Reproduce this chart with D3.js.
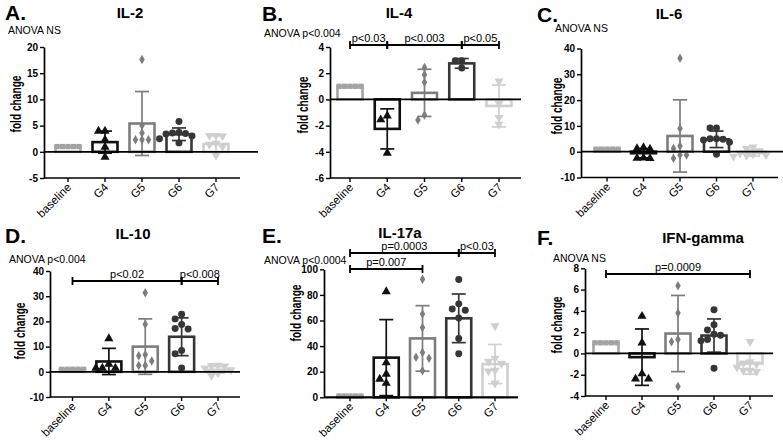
<!DOCTYPE html>
<html><head><meta charset="utf-8">
<script src="https://cdn.jsdelivr.net/npm/d3@7"></script>
<style>
body{margin:0;background:#fff}
svg{display:block}
text{font-family:"Liberation Sans",Arial,Helvetica,sans-serif;fill:#000}
</style>
</head><body>
<svg id="c" width="783" height="444"></svg>
<script>
// ---------------- DATA ----------------
const groups = ["baseline", "G4", "G5", "G6", "G7"];

// IL-2
const il2Mean = [1, 1.85, 5.4, 3.35, 1.5];
const il2SD = [0, 2.1, 6.1, 1.2, 1.55];
const il2Points = [[1,1,1,1,1],[3.95,3.95,2.3,0.9,-1.0],[17.6,5.0,3.6,2.3,2.3,2.3],[5.8,3.7,3.6,3.5,3.4,3.0,2.5,1.7],[3.1,3.1,3.0,1.6,1.4,1.0,-0.7]];
const il2Ticks = [-5, 0, 5, 10, 15, 20];
const il2Brackets = [];

// IL-4
const il4Mean = [1, -2.25, 0.5, 2.75, -0.5];
const il4SD = [0, 1.53, 1.8, 0.37, 1.6];
const il4Points = [[1,1,1,1,1],[-1.25,-1.55,-4.1],[2.44,1.88,1.3,-1.2,-1.58],[2.95,2.95,2.4],[1.4,-0.3,-1.4,-1.9]];
const il4Ticks = [-6, -4, -2, 0, 2, 4];
const il4Brackets = [["baseline","G4","p<0.03",0],["G4","G6","p<0.003",0],["G6","G7","p<0.05",0]];

// IL-6
const il6Mean = [1, -0.6, 6.1, 4.8, -0.5];
const il6SD = [0, 1.8, 14, 3.2, 1.2];
const il6Points = [[1,1,1,1,1],[1.6,1.2,1.0,-2.4,-2.5,-2.6],[36.2,9.0,2.2,1.2,-1.3,-1.3,-2.5],[9.2,9.2,5.0,5.0,4.8,4.5,3.7,-1.0],[1.8,1.2,0.3,-0.6,-0.9,-1.2,-1.5,-1.8]];
const il6Ticks = [-10, 0, 10, 20, 30, 40];
const il6Brackets = [];

// IL-10
const il10Mean = [1, 4.1, 10, 13.9, 0.8];
const il10SD = [0, 5.2, 11, 7.5, 1.3];
const il10Points = [[1,1,1,1,1],[13.2,3.0,1.5,1.5,1.5],[31.4,18.9,6.8,6.4,4.3,2.5,2.5],[22.8,21.0,18.8,17.2,17.0,8.5,7.2,1.5],[2.5,2.4,2.2,1.5,0.8,-0.5,-1.5]];
const il10Ticks = [-10, 0, 10, 20, 30, 40];
const il10Brackets = [["baseline","G6","p<0.02",0],["G6","G7","p<0.008",0]];

// IL-17a
const il17Mean = [1, 31, 46, 61.7, 26];
const il17SD = [0, 29.7, 25.6, 19, 15.3];
const il17Points = [[1,1,1,1,1],[82.6,27,18.2,14.3,11],[92.2,65,54.5,35,31.2,30.5,20.8],[92,73,69,68,62,46,34],[55.7,30.5,28,26.5,21,20.5,11]];
const il17Ticks = [0, 20, 40, 60, 80, 100];
const il17Brackets = [["baseline","G6","p=0.0003",0],["G6","G7","p<0.03",0],["baseline","G5","p=0.007",1]];

// IFN-gamma
const ifnMean = [1, -0.35, 1.87, 1.68, -0.95];
const ifnSD = [0, 2.65, 3.58, 1.56, 1.0];
const ifnPoints = [[1,1,1,1,1],[3.5,1.0,-1.9,-2.4,-2.4],[6.35,3.8,1.3,1.1,-3.1],[4.1,2.7,2.2,1.8,1.7,1.3,1.2,-1.4],[1.1,-0.8,-0.9,-1.0,-1.3,-1.6,-1.6,-1.7]];
const ifnTicks = [-4, -2, 0, 2, 4, 6, 8];
const ifnBrackets = [["baseline","G7","p=0.0009",0]];

const titles = ["IL-2", "IL-4", "IL-6", "IL-10", "IL-17a", "IFN-gamma"];
const letters = ["A.", "B.", "C.", "D.", "E.", "F."];
const anovaTexts = ["ANOVA NS", "ANOVA p<0.004", "ANOVA NS", "ANOVA p<0.004", "ANOVA p<0.0004", "ANOVA NS"];

// ---------------- STYLE / LAYOUT ----------------
const colors = ["#a3a3a3", "#111111", "#7d7d7d", "#363636", "#cfcfcf"];
const shapes = [d3.symbolSquare, d3.symbolTriangle, d3.symbolDiamond, d3.symbolCircle, d3.symbolTriangle];
const shapeRot = [0, 0, 0, 0, 180];
const shapeSize = [28, 36, 26, 38, 36];

const layouts = [
  {axisX:44, c0:68, c4:216, yTop:47, yBot:178, zeroEnd:258, botEnd:240,
   letter:[5,20], title:[130,18], anova:[8,33.5], ylab:[21,104], brY:[]},
  {axisX:330, c0:350, c4:499, yTop:47, yBot:178, zeroEnd:521, botEnd:521,
   letter:[262,21], title:[399,18], anova:[264,37], ylab:[308,105], brY:[45]},
  {axisX:581, c0:607, c4:753, yTop:48.5, yBot:177.5, zeroEnd:783, botEnd:778,
   letter:[537,22], title:[669,19], anova:[555,32], ylab:[562,106], brY:[]},
  {axisX:50, c0:72.5, c4:218, yTop:271, yBot:397, zeroEnd:240, botEnd:240,
   letter:[5,243], title:[133,239], anova:[9,263], ylab:[25,331], brY:[281]},
  {axisX:324, c0:350, c4:495, yTop:269.3, yBot:397.3, zeroEnd:518, botEnd:518,
   letter:[262,243], title:[400,238], anova:[264,263.5], ylab:[301,313], brY:[253,269]},
  {axisX:585, c0:606, c4:750, yTop:268.3, yBot:396, zeroEnd:773, botEnd:773,
   letter:[537,245], title:[703,243], anova:[553,261.5], ylab:[562,325], brY:[274]}
];

const datasets = [
  {mean:il2Mean, sd:il2SD, pts:il2Points, ticks:il2Ticks, br:il2Brackets},
  {mean:il4Mean, sd:il4SD, pts:il4Points, ticks:il4Ticks, br:il4Brackets},
  {mean:il6Mean, sd:il6SD, pts:il6Points, ticks:il6Ticks, br:il6Brackets},
  {mean:il10Mean, sd:il10SD, pts:il10Points, ticks:il10Ticks, br:il10Brackets},
  {mean:il17Mean, sd:il17SD, pts:il17Points, ticks:il17Ticks, br:il17Brackets},
  {mean:ifnMean, sd:ifnSD, pts:ifnPoints, ticks:ifnTicks, br:ifnBrackets}
];

const svg = d3.select("#c");

function swarm(vals, cx, y, step) {
  const placed = [];
  return vals.map(v => {
    const py = y(v);
    const cands = [0];
    for (let k = 1; k <= 4; k++) cands.push(-k * step, k * step);
    let off = cands[cands.length - 1];
    for (const c of cands) {
      if (placed.every(p => Math.hypot(p[0] - (cx + c), p[1] - py) >= step)) { off = c; break; }
    }
    placed.push([cx + off, py]);
    return [cx + off, py];
  });
}

function drawPanel(i) {
  const L = layouts[i], D = datasets[i];
  const g = svg.append("g");
  const y = d3.scaleLinear().domain(d3.extent(D.ticks)).range([L.yBot, L.yTop]);
  const x = d3.scalePoint().domain(groups).range([L.c0, L.c4]);
  const bw = 25;

  // bars
  g.selectAll("rect.bar").data(groups).join("rect").attr("class", "bar")
    .attr("x", k => x(k) - bw / 2)
    .attr("y", (k, j) => y(Math.max(0, D.mean[j])))
    .attr("width", bw)
    .attr("height", (k, j) => Math.abs(y(D.mean[j]) - y(0)))
    .attr("fill", "none")
    .attr("stroke", (k, j) => colors[j])
    .attr("stroke-width", 2.6);

  // error bars
  groups.forEach((k, j) => {
    if (D.sd[j] <= 0) return;
    const cx = x(k), y1 = y(D.mean[j] + D.sd[j]), y2 = y(D.mean[j] - D.sd[j]);
    const eg = g.append("g").attr("stroke", colors[j]).attr("stroke-width", 1.7);
    eg.append("line").attr("x1", cx).attr("x2", cx).attr("y1", y1).attr("y2", y2);
    eg.append("line").attr("x1", cx - 7).attr("x2", cx + 7).attr("y1", y1).attr("y2", y1);
    eg.append("line").attr("x1", cx - 7).attr("x2", cx + 7).attr("y1", y2).attr("y2", y2);
  });

  // points
  groups.forEach((k, j) => {
    const pos = swarm(D.pts[j], x(k), y, j === 0 ? 5.5 : 6.5);
    g.selectAll(null).data(pos).join("path")
      .attr("d", d3.symbol().type(shapes[j]).size(shapeSize[j]))
      .attr("transform", p => `translate(${p[0]},${p[1]}) rotate(${shapeRot[j]})`)
      .attr("fill", colors[j]);
  });

  // zero line
  g.append("line").attr("x1", L.axisX).attr("x2", L.zeroEnd)
    .attr("y1", y(0)).attr("y2", y(0)).attr("stroke", "#000").attr("stroke-width", 1.7);

  // bottom axis
  g.append("line").attr("x1", L.axisX).attr("x2", L.botEnd)
    .attr("y1", L.yBot).attr("y2", L.yBot).attr("stroke", "#000").attr("stroke-width", 1.7);
  g.selectAll("line.xt").data(groups).join("line").attr("class", "xt")
    .attr("x1", k => x(k)).attr("x2", k => x(k))
    .attr("y1", L.yBot).attr("y2", L.yBot + 4)
    .attr("stroke", "#000").attr("stroke-width", 1.4);
  g.selectAll("text.xl").data(groups).join("text").attr("class", "xl")
    .attr("transform", k => `translate(${x(k) + 4},${L.yBot + 10}) rotate(-45)`)
    .attr("text-anchor", "end")
    .attr("font-size", 11.5)
    .text(k => k);

  // y axis
  const ax = d3.axisLeft(y).tickValues(D.ticks).tickSize(4).tickSizeOuter(0).tickPadding(2)
    .tickFormat(v => String(v));
  const ag = g.append("g").attr("transform", `translate(${L.axisX},0)`).call(ax);
  ag.select(".domain").attr("stroke", "#000").attr("stroke-width", 1.7);
  ag.selectAll(".tick line").attr("stroke", "#000").attr("stroke-width", 1.4);
  ag.selectAll(".tick text").attr("font-size", 10).attr("font-weight", "bold")
    .attr("font-family", '"Liberation Sans",Arial,sans-serif').attr("fill", "#000");

  // y label
  g.append("text")
    .attr("transform", `translate(${L.ylab[0]},${L.ylab[1]}) rotate(-90)`)
    .attr("text-anchor", "middle").attr("font-size", 14.5).attr("font-weight", "bold")
    .attr("textLength", 57).attr("lengthAdjust", "spacingAndGlyphs")
    .text("fold change");

  // letter, title, anova
  g.append("text").attr("x", L.letter[0]).attr("y", L.letter[1])
    .attr("font-size", 21).attr("font-weight", "bold").text(letters[i]);
  g.append("text").attr("x", L.title[0]).attr("y", L.title[1])
    .attr("text-anchor", "middle").attr("font-size", 15).attr("font-weight", "bold").text(titles[i]);
  g.append("text").attr("x", L.anova[0]).attr("y", L.anova[1])
    .attr("font-size", 10.5).text(anovaTexts[i]);

  // brackets
  D.br.forEach(b => {
    const by = L.brY[b[3]], xa = x(b[0]), xb = x(b[1]);
    const bg = g.append("g").attr("stroke", "#000").attr("stroke-width", 1.8);
    bg.append("line").attr("x1", xa).attr("x2", xb).attr("y1", by).attr("y2", by);
    bg.append("line").attr("x1", xa).attr("x2", xa).attr("y1", by - 4).attr("y2", by + 4);
    bg.append("line").attr("x1", xb).attr("x2", xb).attr("y1", by - 4).attr("y2", by + 4);
    g.append("text").attr("x", (xa + xb) / 2).attr("y", by - 3)
      .attr("text-anchor", "middle").attr("font-size", 11).text(b[2]);
  });
}

for (let i = 0; i < 6; i++) drawPanel(i);
</script>
</body></html>
